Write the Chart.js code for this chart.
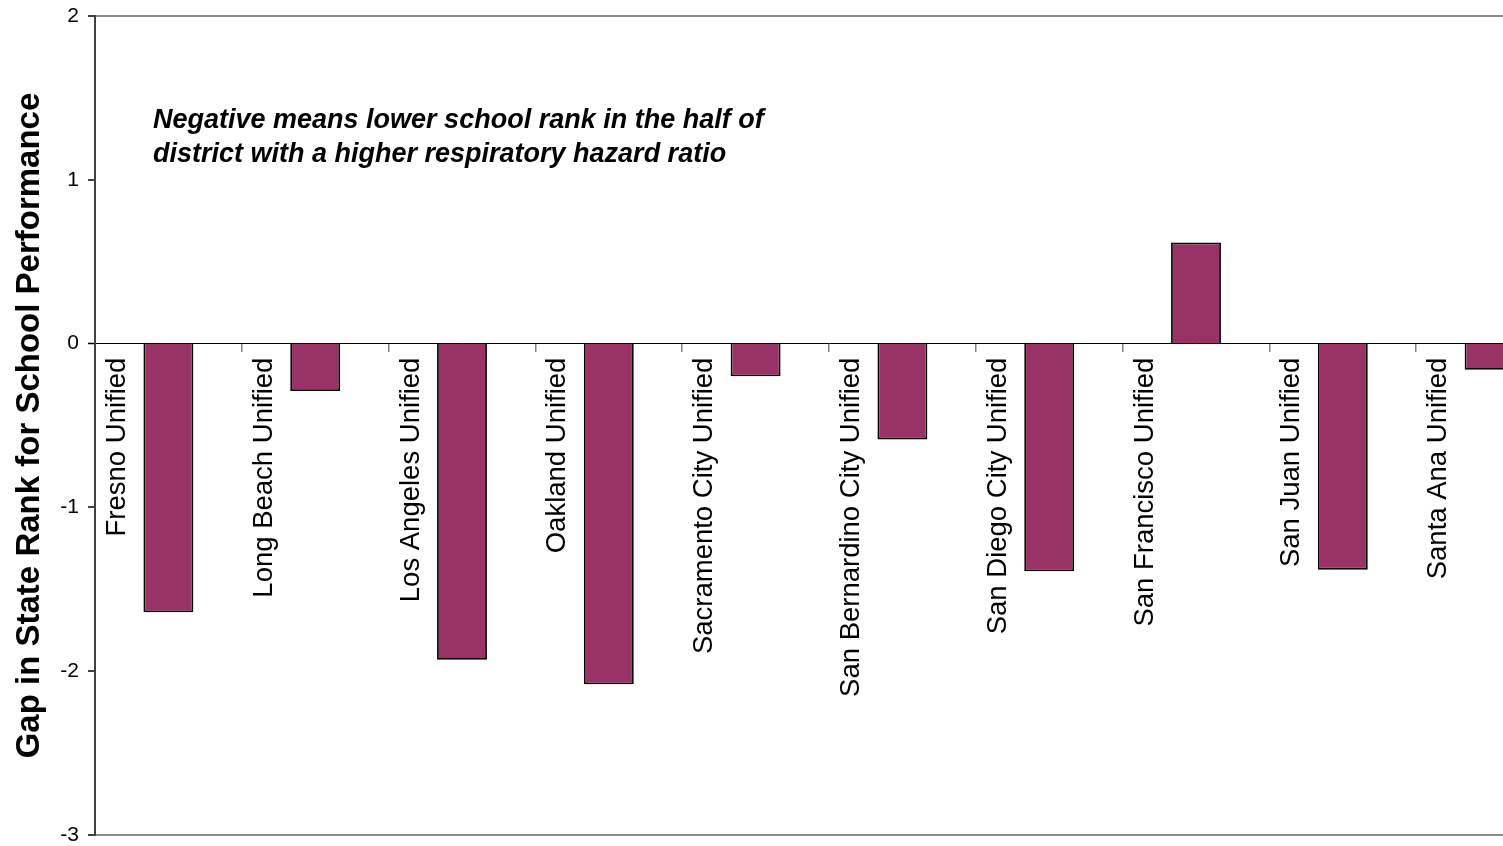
<!DOCTYPE html>
<html><head><meta charset="utf-8">
<script src="https://cdn.jsdelivr.net/npm/chart.js@4/dist/chart.umd.min.js"></script>
<style>
html,body{margin:0;padding:0;overflow:hidden;background:#fff;width:1503px;height:846px}
#wrap{position:absolute;left:0;top:0;width:1566px;height:846px}
#note{position:absolute;left:153px;top:102px;font:italic bold 27px "Liberation Sans",Arial,sans-serif;line-height:34px;color:#000;white-space:nowrap}
</style></head><body>
<div id="wrap"><canvas id="c"></canvas></div>
<div id="note">Negative means lower school rank in the half of<br>district with a higher respiratory hazard ratio</div>
<script>
const categories = ["Fresno Unified","Long Beach Unified","Los Angeles Unified","Oakland Unified","Sacramento City Unified","San Bernardino City Unified","San Diego City Unified","San Francisco Unified","San Juan Unified","Santa Ana Unified"];
const gapValues = [-1.64, -0.29, -1.93, -2.08, -0.20, -0.585, -1.39, 0.617, -1.38, -0.16];
const yTicks = [2, 1, 0, -1, -2, -3];
const yTitle = "Gap in State Rank for School Performance";

const FONT = '"Liberation Sans", Arial, sans-serif';
new Chart(document.getElementById('c'), {
  type: 'bar',
  data: {
    labels: categories,
    datasets: [{
      data: gapValues,
      backgroundColor: '#993366',
      borderColor: '#000',
      borderWidth: 1.8,
      barPercentage: 0.34,
      categoryPercentage: 1
    }]
  },
  options: {
    responsive: true,
    maintainAspectRatio: false,
    animation: false,
    layout: { padding: { top: 16, bottom: 11, left: 13, right: 3 } },
    plugins: { legend: { display: false }, tooltip: { enabled: false } },
    scales: {
      x: {
        position: { y: 0 },
        grid: { offset: true, drawOnChartArea: false, tickLength: 8, color: '#808080', lineWidth: 1.5 },
        border: { display: false },
        ticks: { minRotation: 90, maxRotation: 90, autoSkip: false, labelOffset: -51, padding: 6, color: '#000', font: { family: FONT, size: 27.5 } }
      },
      y: {
        min: Math.min(...yTicks),
        max: Math.max(...yTicks),
        afterBuildTicks: (s) => { s.ticks = yTicks.map(v => ({ value: v })); },
        afterFit: (s) => { s.width = 82; s.paddingTop = 0; s.paddingBottom = 0; },
        ticks: { color: '#000', padding: 9, font: { family: FONT, size: 21 } },
        grid: {
          color: (c) => c.tick && c.tick.value === 0 ? '#000' : ((c.tick && (c.tick.value === 2 || c.tick.value === -3)) ? '#8c8c8c' : 'rgba(0,0,0,0)'),
          lineWidth: (c) => c.tick && c.tick.value === 0 ? 1 : 2,
          tickColor: '#000',
          tickWidth: 1.5,
          tickLength: 7
        },
        border: { color: '#404040', width: 2 },
        title: { display: true, text: yTitle, color: '#000', font: { family: FONT, size: 33, weight: 'bold', lineHeight: 1 }, padding: { top: 0, bottom: 0 } }
      }
    }
  }
});
</script>
</body></html>
